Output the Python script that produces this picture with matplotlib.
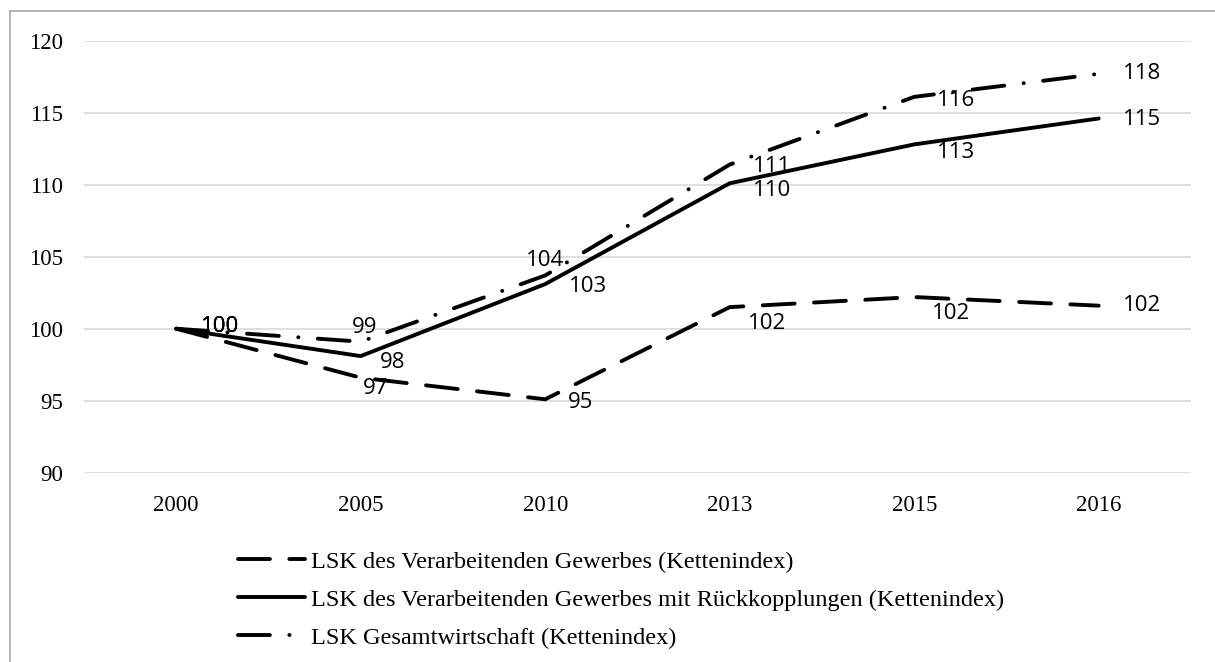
import matplotlib.pyplot as plt
from matplotlib.lines import Line2D

years = ["2000", "2005", "2010", "2013", "2015", "2016"]
lsk_vg = [100, 96.6, 95.1, 101.5, 102.2, 101.6]
lsk_vg_rk = [100, 98.1, 103.1, 110.1, 112.8, 114.6]
lsk_gesamt = [100, 99.1, 103.7, 111.4, 116.1, 117.7]

labels = [
    "LSK des Verarbeitenden Gewerbes (Kettenindex)",
    "LSK des Verarbeitenden Gewerbes mit Rückkopplungen (Kettenindex)",
    "LSK Gesamtwirtschaft (Kettenindex)",
]

# label offsets (pixels) per point
offs_vg = [(44, -2), (15, 11), (35, 3), (37, 16), (37, 16), (43, 0)]
offs_rk = [(44, -2), (32, 6), (43, 2), (42, 7), (42, 8), (43, 1)]
offs_ges = [(44, -2), (4, -14), (0, -15), (42, 2), (42, 4), (43, 0)]

SERIF = "Liberation Serif"
SANS = "Open Sans"

fig = plt.figure(figsize=(12.15, 6.62), dpi=100)
ax = fig.add_axes([0.0691, 0.2859, 0.9111, 0.6526])

x = list(range(len(years)))
lw = 2.8
common = dict(color="black", lw=lw, dash_capstyle="round", solid_capstyle="round")
l1, = ax.plot(x, lsk_vg, dashes=(8.2, 5.0), label=labels[0], **common)
l2, = ax.plot(x, lsk_vg_rk, label=labels[1], **common)
l3, = ax.plot(x, lsk_gesamt, dashes=(8.2, 5.0, 0.05, 5.0), label=labels[2], **common)

for vals, offs in [(lsk_vg, offs_vg), (lsk_vg_rk, offs_rk), (lsk_gesamt, offs_ges)]:
    for xi, v, (dx, dy) in zip(x, vals, offs):
        ax.annotate(f"{v:.0f}", (xi, v), xytext=(dx * 0.72, -dy * 0.72),
                    textcoords="offset points", ha="center", va="center",
                    fontsize=16, family=SANS, color="black")

ax.set_xlim(-0.5, len(years) - 0.5)
ax.set_ylim(90, 120)
ax.set_yticks(range(90, 121, 5))
ax.set_xticks(x)
ax.set_xticklabels(years)
ax.grid(axis="y", color="#d9d9d9", lw=1.2)
ax.set_axisbelow(True)
for s in ax.spines.values():
    s.set_visible(False)
ax.tick_params(length=0)
ax.tick_params(axis="y", pad=15)
ax.tick_params(axis="x", pad=16)
for t in ax.get_xticklabels() + ax.get_yticklabels():
    t.set_fontfamily(SERIF)
    t.set_fontsize(16.5)

fig.legend(handles=[l1, l2, l3], loc="upper left", bbox_to_anchor=(0.196, 0.1677),
           frameon=False, borderpad=0, borderaxespad=0, handlelength=2.75,
           handletextpad=0.25, labelspacing=0.65,
           prop={"family": SERIF, "size": 17.5})

# chart border (top and left only visible in the crop)
fig.add_artist(Line2D([10 / 1215, 10 / 1215], [0, 1 - 11 / 662], transform=fig.transFigure,
                      color="#a6a6a6", lw=1.2))
fig.add_artist(Line2D([10 / 1215, 1], [1 - 11 / 662, 1 - 11 / 662], transform=fig.transFigure,
                      color="#a6a6a6", lw=1.2))

fig.savefig("out.png", dpi=100)
